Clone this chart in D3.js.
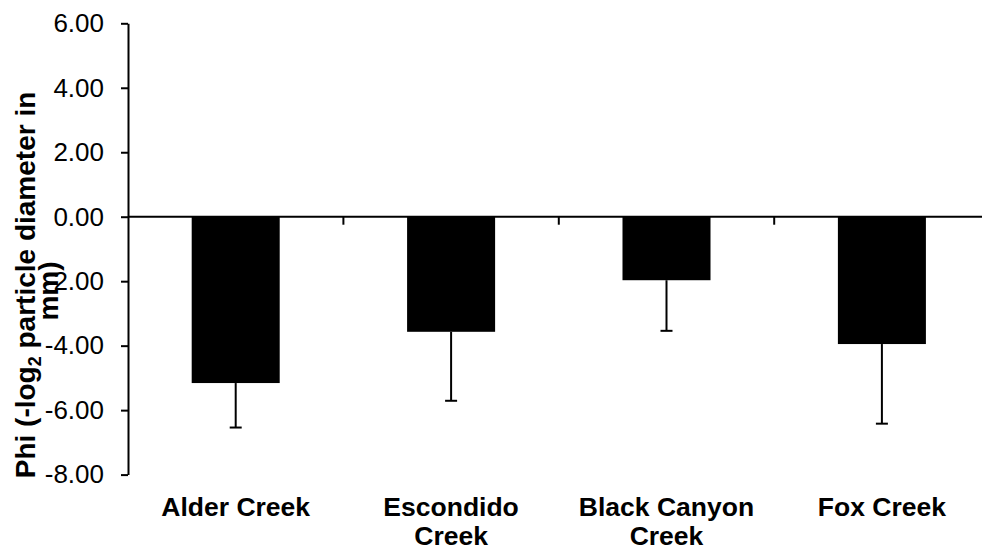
<!DOCTYPE html>
<html>
<head>
<meta charset="utf-8">
<script src="https://cdn.jsdelivr.net/npm/d3@7"></script>
<style>
  html, body { margin: 0; padding: 0; background: #fff; }
  svg { display: block; font-family: "Liberation Sans", Arial, sans-serif; }
</style>
</head>
<body>
<svg id="chart" width="982" height="550"></svg>
<script>
// Mean phi per creek with one-sided (negative) standard deviation bars
const categories = ["Alder Creek", "Escondido Creek", "Black Canyon Creek", "Fox Creek"];
const categoryLines = [["Alder Creek"], ["Escondido", "Creek"], ["Black Canyon", "Creek"], ["Fox Creek"]];
const meanPhi = [-5.16, -3.57, -1.97, -3.95];
const sdPhi = [1.38, 2.14, 1.57, 2.47];
const yTicks = [-8, -6, -4, -2, 0, 2, 4, 6];

const svg = d3.select("#chart");

const y = d3.scaleLinear().domain([-8, 6]).range([474.6, 23.3]);
const x = d3.scaleBand()
  .domain(categories)
  .range([128, 989.6])
  .paddingInner(0.5914)
  .paddingOuter(0.2957);

const fmt = d => d.toFixed(2);

// Bars hang down from zero
svg.append("g").selectAll("rect")
  .data(categories)
  .join("rect")
  .attr("x", d => x(d))
  .attr("width", x.bandwidth())
  .attr("y", y(0))
  .attr("height", (d, i) => y(meanPhi[i]) - y(0))
  .attr("fill", "#000");

// Error bars (minus direction only)
const err = svg.append("g").attr("stroke", "#000").attr("stroke-width", 2);
categories.forEach((c, i) => {
  const cx = x(c) + x.bandwidth() / 2;
  const y1 = y(meanPhi[i]);
  const y2 = y(meanPhi[i] - sdPhi[i]);
  err.append("line").attr("x1", cx).attr("x2", cx).attr("y1", y1).attr("y2", y2);
  err.append("line").attr("x1", cx - 6).attr("x2", cx + 6).attr("y1", y2).attr("y2", y2);
});

// Category axis along zero with tick marks between categories
const step = x.step();
const zeroY = y(0);
const xAxis = svg.append("g").attr("stroke", "#000").attr("stroke-width", 2);
xAxis.append("line").attr("x1", 128).attr("x2", 989.6).attr("y1", zeroY).attr("y2", zeroY);
categories.forEach((c, i) => {
  const bx = x(c) - step * x.paddingInner() / 2;
  if (i > 0) {
    xAxis.append("line").attr("x1", bx).attr("x2", bx).attr("y1", zeroY).attr("y2", zeroY + 8);
  }
});

// Category labels below the plot
const labels = svg.append("g")
  .attr("font-size", 26.5)
  .attr("font-weight", "bold")
  .attr("text-anchor", "middle")
  .attr("fill", "#000");
categories.forEach((c, i) => {
  const t = labels.append("text").attr("x", x(c) + x.bandwidth() / 2).attr("y", 516);
  categoryLines[i].forEach((line, j) => {
    t.append("tspan").attr("x", x(c) + x.bandwidth() / 2).attr("dy", j === 0 ? 0 : 29).text(line);
  });
});

// Value axis
const yAxis = svg.append("g")
  .attr("transform", "translate(128,0)")
  .call(d3.axisLeft(y).tickValues(yTicks).tickFormat(fmt).tickSize(7).tickSizeOuter(0).tickPadding(17));
yAxis.selectAll("path, line").attr("stroke", "#000").attr("stroke-width", 2);
yAxis.selectAll("text")
  .attr("font-size", 26)
  .attr("font-family", "'Liberation Sans', Arial, sans-serif")
  .attr("fill", "#000");

// Axis title (two lines, rotated)
const title = svg.append("g")
  .attr("font-size", 28)
  .attr("font-weight", "bold")
  .attr("text-anchor", "middle")
  .attr("fill", "#000");
const t1 = title.append("text").attr("transform", "translate(35,285) rotate(-90)");
t1.append("tspan").text("Phi (-log");
t1.append("tspan").attr("font-size", 18).attr("dy", 6).text("2");
t1.append("tspan").attr("dy", -6).text(" particle diameter in");
title.append("text").attr("transform", "translate(58,291) rotate(-90)").text("mm)");
</script>
</body>
</html>
